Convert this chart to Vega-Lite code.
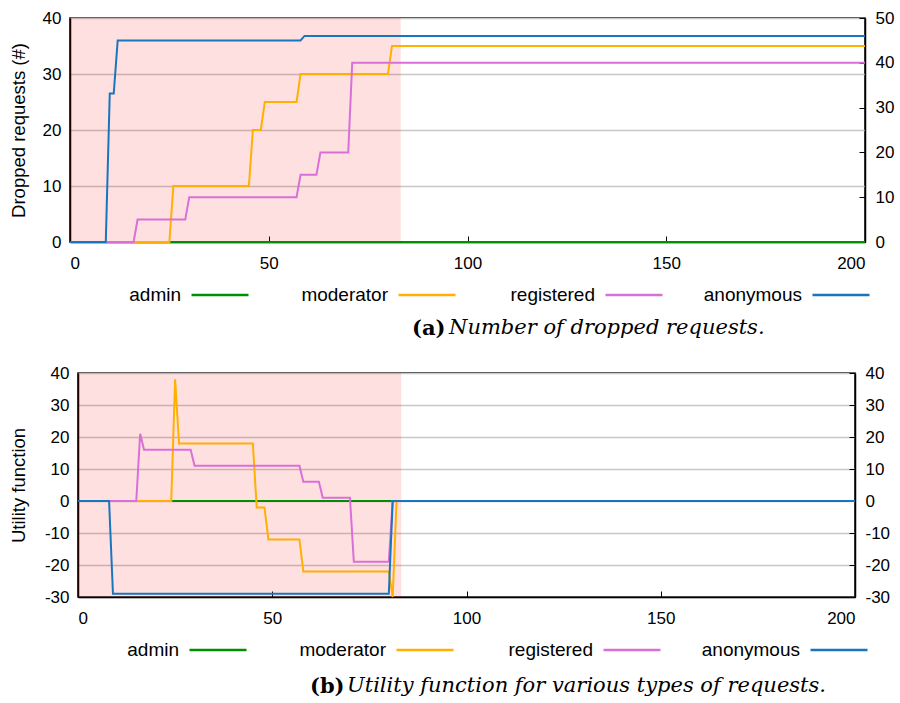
{
  "$schema": "https://vega.github.io/schema/vega-lite/v6.json",
  "padding": {"left": 7, "top": 8, "right": 5, "bottom": 5},
  "background": "white",
  "datasets": {
    "dropped": [
      {"t": 0, "type": "admin", "v": 0}, {"t": 200, "type": "admin", "v": 0},
      {"t": 0, "type": "moderator", "v": 0}, {"t": 25, "type": "moderator", "v": 0}, {"t": 26, "type": "moderator", "v": 10}, {"t": 45, "type": "moderator", "v": 10}, {"t": 46, "type": "moderator", "v": 20}, {"t": 48, "type": "moderator", "v": 20}, {"t": 49, "type": "moderator", "v": 25}, {"t": 57, "type": "moderator", "v": 25}, {"t": 58, "type": "moderator", "v": 30}, {"t": 80, "type": "moderator", "v": 30}, {"t": 81, "type": "moderator", "v": 35}, {"t": 200, "type": "moderator", "v": 35},
      {"t": 0, "type": "registered", "v": 0}, {"t": 16, "type": "registered", "v": 0}, {"t": 17, "type": "registered", "v": 4}, {"t": 29, "type": "registered", "v": 4}, {"t": 30, "type": "registered", "v": 8}, {"t": 57, "type": "registered", "v": 8}, {"t": 58, "type": "registered", "v": 12}, {"t": 62, "type": "registered", "v": 12}, {"t": 63, "type": "registered", "v": 16}, {"t": 70, "type": "registered", "v": 16}, {"t": 71, "type": "registered", "v": 32}, {"t": 200, "type": "registered", "v": 32},
      {"t": 0, "type": "anonymous", "v": 0}, {"t": 9, "type": "anonymous", "v": 0}, {"t": 10, "type": "anonymous", "v": 26.5}, {"t": 11, "type": "anonymous", "v": 26.5}, {"t": 12, "type": "anonymous", "v": 36}, {"t": 58, "type": "anonymous", "v": 36}, {"t": 59, "type": "anonymous", "v": 36.8}, {"t": 200, "type": "anonymous", "v": 36.8}
    ],
    "utility": [
      {"t": 0, "type": "admin", "v": 0}, {"t": 200, "type": "admin", "v": 0},
      {"t": 0, "type": "moderator", "v": 0}, {"t": 24, "type": "moderator", "v": 0}, {"t": 25, "type": "moderator", "v": 38}, {"t": 26, "type": "moderator", "v": 18}, {"t": 45, "type": "moderator", "v": 18}, {"t": 46, "type": "moderator", "v": -2}, {"t": 48, "type": "moderator", "v": -2}, {"t": 49, "type": "moderator", "v": -12}, {"t": 57, "type": "moderator", "v": -12}, {"t": 58, "type": "moderator", "v": -22}, {"t": 80, "type": "moderator", "v": -22}, {"t": 81, "type": "moderator", "v": -30}, {"t": 82, "type": "moderator", "v": 0}, {"t": 200, "type": "moderator", "v": 0},
      {"t": 0, "type": "registered", "v": 0}, {"t": 15, "type": "registered", "v": 0}, {"t": 16, "type": "registered", "v": 21}, {"t": 17, "type": "registered", "v": 16}, {"t": 29, "type": "registered", "v": 16}, {"t": 30, "type": "registered", "v": 11}, {"t": 57, "type": "registered", "v": 11}, {"t": 58, "type": "registered", "v": 6}, {"t": 62, "type": "registered", "v": 6}, {"t": 63, "type": "registered", "v": 1}, {"t": 70, "type": "registered", "v": 1}, {"t": 71, "type": "registered", "v": -19}, {"t": 80, "type": "registered", "v": -19}, {"t": 81, "type": "registered", "v": 0}, {"t": 200, "type": "registered", "v": 0},
      {"t": 0, "type": "anonymous", "v": 0}, {"t": 8, "type": "anonymous", "v": 0}, {"t": 9, "type": "anonymous", "v": -29}, {"t": 80, "type": "anonymous", "v": -29}, {"t": 81, "type": "anonymous", "v": 0}, {"t": 200, "type": "anonymous", "v": 0}
    ],
    "phase": [{"t": 0, "t2": 83.2}],
    "blank": [{}]
  },
  "vconcat": [
    {
      "spacing": 0,
      "resolve": {"legend": {"color": "independent"}},
      "hconcat": [
        {"width": 1, "height": 1, "data": {"name": "blank"}, "mark": {"type": "point", "size": 1, "opacity": 0}, "view": {"stroke": null}},
        {
          "title": {"text": "Number of dropped requests.", "orient": "bottom", "anchor": "start", "frame": "group", "dx": 379, "dy": -33, "font": "DejaVu Serif", "fontSize": 21, "fontStyle": "italic", "fontWeight": "normal", "color": "black", "offset": 10},
          "resolve": {"legend": {"color": "independent"}},
          "vconcat": [
            {
              "width": 795,
              "height": 224,
              "title": {"text": "(a)", "orient": "bottom", "anchor": "start", "frame": "group", "dx": 342, "font": "DejaVu Serif", "fontSize": 21, "fontWeight": "bold", "color": "black", "offset": 13},
              "encoding": {
                "x": {"field": "t", "type": "quantitative", "scale": {"domain": [0, 200], "nice": false}, "axis": {"title": null, "values": [0, 50, 100, 150, 200], "tickSize": -6, "labelPadding": 19, "grid": false}}
              },
              "layer": [
                {"data": {"name": "phase"}, "mark": {"type": "rect", "color": "#ff0000", "opacity": 0.12}, "encoding": {"x2": {"field": "t2"}}},
                {
                  "data": {"name": "dropped"},
                  "mark": {"type": "line", "strokeWidth": 2},
                  "encoding": {
                    "y": {"field": "v", "type": "quantitative", "scale": {"domain": [0, 40], "nice": false}, "axis": {"title": "Dropped requests (#)", "values": [0, 10, 20, 30, 40], "ticks": false, "labelPadding": 9, "titlePadding": 14, "grid": true, "labelExpr": "'' + datum.value"}},
                    "color": {"field": "type", "type": "nominal", "scale": {"domain": ["admin", "moderator", "registered", "anonymous"], "range": ["#008f00", "#ffb000", "#d96fd8", "#1a75bf"]},
                      "legend": {"orient": "none", "legendX": 120, "legendY": 247, "direction": "horizontal", "columns": 4, "gridAlign": "all", "title": null, "symbolType": "stroke", "symbolSize": 3249, "symbolStrokeWidth": 2.5, "labelAlign": "right", "labelOffset": -69, "labelFont": "Liberation Sans", "labelFontSize": 19, "labelColor": "black", "labelLimit": 0, "columnPadding": 35}}
                  }
                },
                {
                  "data": {"name": "dropped"},
                  "transform": [{"filter": "datum.type === 'admin'"}],
                  "mark": {"type": "line", "opacity": 0},
                  "encoding": {
                    "y": {"field": "v", "type": "quantitative", "scale": {"domain": [0, 50], "nice": false}, "axis": {"title": null, "orient": "right", "values": [0, 10, 20, 30, 40, 50], "tickSize": -6, "labelPadding": 16, "grid": false, "labelExpr": "'' + datum.value"}}
                  }
                }
              ],
              "resolve": {"scale": {"y": "independent"}}
            }
          ]
        }
      ]
    },
    {
      "spacing": 0,
      "resolve": {"legend": {"color": "independent"}},
      "hconcat": [
        {"width": 1, "height": 1, "data": {"name": "blank"}, "mark": {"type": "point", "size": 1, "opacity": 0}, "view": {"stroke": null}},
        {
          "title": {"text": "Utility function for various types of requests.", "orient": "bottom", "anchor": "start", "frame": "group", "dx": 269, "dy": -33, "font": "DejaVu Serif", "fontSize": 21, "fontStyle": "italic", "fontWeight": "normal", "color": "black", "offset": 10},
          "resolve": {"legend": {"color": "independent"}},
          "vconcat": [
            {
              "width": 777,
              "height": 224,
              "title": {"text": "(b)", "orient": "bottom", "anchor": "start", "frame": "group", "dx": 232, "font": "DejaVu Serif", "fontSize": 21, "fontWeight": "bold", "color": "black", "offset": 16},
              "encoding": {
                "x": {"field": "t", "type": "quantitative", "scale": {"domain": [0, 200], "nice": false}, "axis": {"title": null, "values": [0, 50, 100, 150, 200], "tickSize": -6, "labelPadding": 19, "grid": false}}
              },
              "layer": [
                {"data": {"name": "phase"}, "mark": {"type": "rect", "color": "#ff0000", "opacity": 0.12}, "encoding": {"x2": {"field": "t2"}}},
                {
                  "data": {"name": "utility"},
                  "mark": {"type": "line", "strokeWidth": 2},
                  "encoding": {
                    "y": {"field": "v", "type": "quantitative", "scale": {"domain": [-30, 40], "nice": false}, "axis": {"title": "Utility function", "values": [-30, -20, -10, 0, 10, 20, 30, 40], "ticks": false, "labelPadding": 9, "titlePadding": 16, "grid": true, "labelExpr": "'' + datum.value"}},
                    "color": {"field": "type", "type": "nominal", "scale": {"domain": ["admin", "moderator", "registered", "anonymous"], "range": ["#008f00", "#ffb000", "#d96fd8", "#1a75bf"]},
                      "legend": {"orient": "none", "legendX": 110, "legendY": 247, "direction": "horizontal", "columns": 4, "gridAlign": "all", "title": null, "symbolType": "stroke", "symbolSize": 3249, "symbolStrokeWidth": 2.5, "labelAlign": "right", "labelOffset": -69, "labelFont": "Liberation Sans", "labelFontSize": 19, "labelColor": "black", "labelLimit": 0, "columnPadding": 35}}
                  }
                },
                {
                  "data": {"name": "utility"},
                  "transform": [{"filter": "datum.type === 'admin'"}],
                  "mark": {"type": "line", "opacity": 0},
                  "encoding": {
                    "y": {"field": "v", "type": "quantitative", "axis": {"title": null, "orient": "right", "values": [-30, -20, -10, 0, 10, 20, 30, 40], "tickSize": -6, "labelPadding": 16, "grid": false, "labelExpr": "'' + datum.value"}}
                  }
                }
              ],
              "resolve": {"axis": {"y": "independent"}}
            }
          ]
        }
      ]
    }
  ],
  "spacing": 23,
  "resolve": {"legend": {"color": "independent"}},
  "config": {
    "view": {"stroke": "black", "strokeWidth": 1.5},
    "axis": {"labelFont": "Liberation Sans", "labelFontSize": 17, "labelColor": "black", "titleFont": "Liberation Sans", "titleFontSize": 18.5, "titleFontWeight": "normal", "titleColor": "black", "domainColor": "black", "domainWidth": 1.5, "tickColor": "black", "tickWidth": 1, "gridColor": "#c8c8c8", "gridWidth": 1.3}
  }
}
